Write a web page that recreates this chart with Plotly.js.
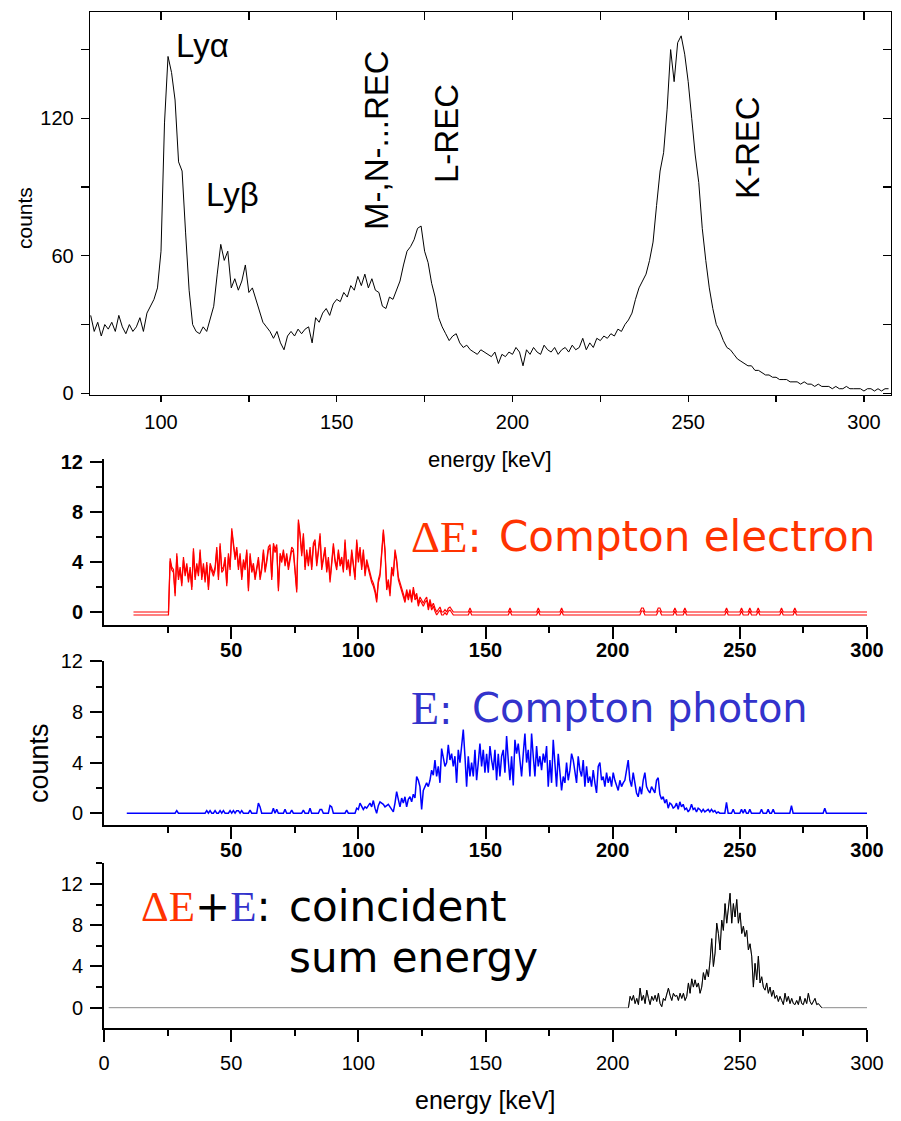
<!DOCTYPE html>
<html><head><meta charset="utf-8">
<script src="https://cdn.plot.ly/plotly-3.0.1.min.js"></script>
<style>html,body{margin:0;padding:0;background:#fff}</style>
</head><body>
<div id="chart" style="width:901px;height:1121px"></div>
<script>
// ---------- data ----------
// top: X-ray spectrum, 1 keV bins from 80 keV
const topStartKeV = 80;
const topStepKeV = 1;
const topCounts = [
 34,27,31,25,30,28,31,27,34,29,
 26,30,27,29,33,27,35,38,41,46,
 62,118,147,140,128,101,97,70,45,30,
 27,26,29,27,33,38,52,65,58,62,
 46,50,45,49,56,44,46,41,35,31,
 29,27,24,27,22,19,25,27,25,28,
 26,28,29,22,33,31,35,37,34,39,
 41,40,44,42,47,45,51,47,52,46,
 50,45,44,38,37,42,41,45,49,56,
 62,64,67,72,73,62,57,48,42,33,
 29,26,23,25,26,22,20,21,19,18,
 17,19,18,17,16,18,13,17,16,18,
 17,20,18,12,19,17,20,18,17,21,
 19,18,20,17,19,20,18,21,19,20,
 24,19,22,20,24,23,25,24,26,25,
 28,27,30,32,35,41,46,49,52,58,
 66,82,97,105,124,150,136,153,156,148,
 136,120,104,92,72,58,46,37,30,27,
 23,20,19,17,15,14,13,12,12,10,
 10,9,8,8,7,7,6,6,6,5,
 5,5,4,5,4,4,3,4,3,3,
 3,2,3,2,2,3,2,2,2,2,
 1,2,2,1,2,1,2,2];

// coincidence spectra: bins of 0.655 keV
const binStepKeV = 0.655;

// ΔE: Compton electron
const elecLowKeV = 11.8, elecStartKeV = 26.0, elecHighKeV = 300;
const elecCounts = [
 4.3,3.6,3.4,1.5,4.7,2.8,3.6,2.3,4.4,3.1,
 3.9,2.6,3.6,2.0,5.1,2.8,3.9,3.1,5.0,2.8,
 3.9,2.6,4.0,2.0,3.9,3.4,3.1,3.6,5.2,2.8,
 5.5,3.4,3.6,4.4,2.3,4.7,3.6,6.7,5.5,4.4,
 5.2,3.6,4.7,2.8,4.2,3.6,5.0,1.9,4.7,3.4,
 3.9,2.8,3.6,4.4,2.8,3.6,5.0,3.4,4.2,5.2,
 5.4,2.8,5.5,5.0,5.4,1.9,4.7,4.2,5.0,3.9,
 4.7,3.6,4.4,5.2,5.0,3.1,1.8,7.4,6.3,4.7,
 6.3,3.6,5.0,3.9,5.2,3.6,5.5,5.8,3.9,5.0,
 6.3,3.6,4.4,5.2,3.4,4.4,2.6,4.4,5.5,4.2,
 3.6,5.0,3.9,4.4,3.4,5.8,3.6,4.2,3.1,5.0,
 3.6,2.8,5.8,4.2,5.2,3.6,5.0,3.1,4.2,3.6,
 3.1,2.6,2.3,1.8,1.0,2.6,3.1,5.0,6.6,5.0,
 2.0,2.6,1.5,3.6,3.1,5.0,4.2,2.8,2.3,1.8,
 1.5,1.0,1.8,1.2,1.8,1.0,2.0,1.2,1.5,0.7,
 1.2,1.0,0.7,1.0,1.2,0.4,1.0,0.4,0.7,0.3,
 0.0,0.2,0.4,0.0,0.0,0.2,0.0,0.3,0.4,0.2,
 0.0];
const elecBumpKeV = [144.2,159.4,170.8,179.7,211.2,212.0,217.6,218.3,224.5,228.6,244.6,250.5,254.0,257.3,266.2,271.7];
const elecBumpCounts = [0.32,0.32,0.32,0.32,0.32,0.32,0.32,0.32,0.32,0.32,0.32,0.32,0.32,0.32,0.32,0.32];

// E: Compton photon
const photLowKeV = 8.7, photStartKeV = 100.0, photHighKeV = 300;
const photCounts = [
 0.3,0.8,0.5,0.3,0.5,0.4,0.6,0.8,0.5,1.0,0.4,0.0,0.6,
 0.9,0.8,0.7,0.5,0.6,0.7,0.5,0.3,0.1,0.8,
 1.7,1.1,0.5,1.2,0.8,1.3,0.5,1.1,1.3,0.9,
 1.5,1.2,2.9,2.6,2.1,0.3,1.8,2.1,2.4,2.1,
 2.6,3.4,3.0,4.2,2.9,3.7,2.4,5.1,4.2,3.7,
 4.0,5.4,4.2,4.7,3.7,4.5,2.4,5.0,4.0,5.3,
 6.6,4.5,2.1,4.5,2.9,4.0,2.9,5.0,2.6,4.0,
 5.5,3.7,5.0,3.2,4.7,3.2,5.3,4.2,3.4,5.0,
 2.6,4.7,2.9,4.5,5.0,3.2,6.1,4.2,2.6,4.5,
 2.2,5.8,4.7,5.5,4.0,2.9,4.7,6.3,4.0,5.0,
 2.9,6.3,4.5,2.9,5.3,3.7,4.5,3.4,4.7,4.0,
 5.3,2.1,4.2,2.4,5.8,3.7,2.1,4.7,3.4,1.8,
 2.9,2.4,4.0,2.6,3.4,4.7,4.2,3.4,2.4,4.5,
 3.4,2.9,4.2,2.1,3.7,2.4,2.9,2.1,3.4,2.4,
 1.6,3.7,4.0,2.6,2.9,2.1,3.2,2.4,2.9,2.1,
 3.2,2.6,2.1,1.8,2.6,2.1,2.4,2.6,3.4,4.2,
 2.6,2.1,3.2,2.4,1.6,1.3,2.1,1.5,2.6,3.2,
 2.1,1.8,1.6,2.1,1.8,1.6,2.6,2.8,1.5,1.1,
 1.3,0.8,1.1,0.4,0.8,0.7,0.4,0.5,0.8,0.3,
 0.9,0.5,0.7,0.3,0.4,0.1,0.3,0.7,0.3,0.4,
 0.1,0.4,0.3,0.1,0.3,0.1,0.2,0.3,0.1,0.3,
 0.1,0.2,0.0,0.1];
const photBumpKeV = [28.3,40.3,41.9,43.5,45.4,46.7,49.7,50.8,51.9,52.8,54.1,57.4,60.7,61.6,66.6,67.6,71.2,73.8,78.4,81.3,85.0,85.6,88.6,89.5,95.4,99.4,244.6,247.5,250.7,252.0,254.0,258.2,261.2,263.2,270.0,283.5];
const photBumpCounts = [0.2,0.2,0.2,0.2,0.2,0.2,0.2,0.2,0.2,0.2,0.2,0.25,0.8,0.5,0.4,0.3,0.3,0.25,0.25,0.4,0.3,0.3,0.6,0.5,0.25,0.4,0.85,0.3,0.3,0.3,0.3,0.3,0.3,0.3,0.6,0.4];

// ΔE+E: coincident sum energy
const sumLowKeV = 1.7, sumStartKeV = 206.2, sumHighKeV = 300;
const sumCounts = [
 0,1.1,0.7,1.2,0.4,0.9,0.3,1.9,0.7,1.2,
 0.4,1.7,0.9,0.3,1.1,0.7,1.2,0.6,1.4,0.4,
 0.1,0.9,0.7,1.2,1.9,1.2,0.7,1.4,1.1,1.2,
 0.7,1.4,0.9,1.4,0.7,1.1,2.4,1.4,2.8,2.0,
 2.7,2.0,2.4,1.4,2.0,3.4,2.7,3.7,3.0,4.6,
 6.7,4.0,5.3,8.2,7.2,5.6,8.5,7.5,10.1,8.2,
 9.8,11.1,8.2,10.1,8.8,10.5,8.2,9.2,7.2,7.9,
 6.9,7.5,5.6,6.2,5.0,2.0,4.3,2.7,5.0,2.4,
 3.0,2.0,1.7,2.4,1.4,2.0,1.1,1.7,0.9,1.2,
 0.6,1.1,0.7,0.3,1.4,0.6,1.1,0.4,0.9,0.4,
 0.3,0.7,0.3,1.1,0.4,0.3,0.9,0.4,1.4,0.6,
 0.3,0.6,0.9,0.3,0.4,0.2,0];

// tick values
const topXTicks = [100,150,200,250,300];
const topXMinor = [125,175,225,275];
const topYTicks = [0,60,120];
const topYMinor = [30,90,150];
const panelXTicks = [50,100,150,200,250,300];
const sumXTicks = [0,50,100,150,200,250,300];
const panelXMinor = [25,75,125,175,225,275];
const panelYTicks = [0,4,8,12];
const panelYMinor = [2,6,10];
const sumYMinor = [2,6,10,14];

// ---------- build series ----------
function binnedSeries(lo, start, step, hi, counts, bumpE, bumpC) {
  const x = [], y = [];
  const nPre = Math.round((start - lo) / step);
  for (let i = nPre; i > 0; i--) { x.push(start - i * step); y.push(0); }
  counts.forEach((c, i) => { x.push(start + i * step); y.push(c); });
  let e = start + counts.length * step;
  for (; e <= hi + 1e-6; e += step) { x.push(e); y.push(0); }
  if (x[x.length - 1] < hi - 0.01) { x.push(hi); y.push(0); }
  (bumpE || []).forEach((b, k) => {
    let best = 0, d = Infinity;
    x.forEach((xx, i) => { const dd = Math.abs(xx - b); if (dd < d) { d = dd; best = i; } });
    y[best] = bumpC[k];
  });
  return { x, y };
}
const topX = topCounts.map((_, i) => topStartKeV + i * topStepKeV);
const elec = binnedSeries(elecLowKeV, elecStartKeV, binStepKeV, elecHighKeV, elecCounts, elecBumpKeV, elecBumpCounts);
const phot = binnedSeries(photLowKeV, photStartKeV, binStepKeV, photHighKeV, photCounts, photBumpKeV, photBumpCounts);
const sumAll = binnedSeries(sumLowKeV, sumStartKeV, binStepKeV, sumHighKeV, sumCounts, [], []);
const sumPeakX = sumCounts.map((_, i) => sumStartKeV + i * binStepKeV);

// ---------- layout helpers ----------
const W = 901, H = 1121;
const fx = p => p / W, fy = p => 1 - p / H;
const ARIAL = "'Liberation Sans', Arial, sans-serif";
const VERD = "'DejaVu Sans', Verdana, sans-serif";
const RED_TXT = '#FF3300', BLUE_TXT = '#3333CC';

const line = (c, w) => ({ color: c, width: w });
const traces = [
  { x: topX, y: topCounts, xaxis: 'x', yaxis: 'y', mode: 'lines', line: line('#000', 1), hoverinfo: 'skip' },
  { x: [], y: [], xaxis: 'x5', yaxis: 'y5', mode: 'lines', hoverinfo: 'skip' },
  { x: elec.x, y: elec.y, xaxis: 'x2', yaxis: 'y2', mode: 'lines', line: line('#FF0000', 1.2), hoverinfo: 'skip' },
  { x: elec.x, y: elec.y, xaxis: 'x2', yaxis: 'y6', mode: 'lines', line: line('#FF0000', 1.2), hoverinfo: 'skip' },
  { x: phot.x, y: phot.y, xaxis: 'x3', yaxis: 'y3', mode: 'lines', line: line('#0000FF', 1.5), hoverinfo: 'skip' },
  { x: sumAll.x, y: sumAll.y, xaxis: 'x4', yaxis: 'y4', mode: 'lines', line: line('#8a8a8a', 1), hoverinfo: 'skip' },
  { x: sumPeakX, y: sumCounts, xaxis: 'x4', yaxis: 'y4', mode: 'lines', line: line('#000', 1), hoverinfo: 'skip' }
];

const tf = (size, bold) => ({ family: ARIAL, size: size, color: '#000', weight: bold ? 'bold' : 'normal' });
const baseAx = { showgrid: false, zeroline: false, showline: true, linecolor: '#000', tickcolor: '#000', fixedrange: true };

function minorArr(vals, len, dir, w) {
  return { tickmode: 'array', tickvals: vals, ticks: dir, ticklen: len, tickwidth: w, tickcolor: '#000', showgrid: false };
}
function panelX(anchor, ticks, bold, standoff) {
  return Object.assign({}, baseAx, {
    domain: [fx(104), fx(867)], anchor: anchor, range: [0, 300], linewidth: 2,
    ticks: 'outside', ticklen: 12, tickwidth: 2, tickmode: 'array', tickvals: ticks,
    minor: minorArr(panelXMinor, 6, 'outside', 2), tickfont: tf(20, bold), ticklabelstandoff: standoff
  });
}
function panelY(anchor, top, bottom, range, bold, minors) {
  return Object.assign({}, baseAx, {
    domain: [fy(bottom), fy(top)], anchor: anchor, range: range, linewidth: 2,
    ticks: 'outside', ticklen: 12, tickwidth: 2, tickmode: 'array', tickvals: panelYTicks,
    minor: minorArr(minors, 6, 'outside', 2), tickfont: tf(20, bold), ticklabelstandoff: 3
  });
}

const topRange = [79.8, 307.7], topYRange = [-0.74, 166.4];
const layout = {
  width: W, height: H, margin: { l: 0, r: 0, t: 0, b: 0 },
  paper_bgcolor: '#fff', plot_bgcolor: 'rgba(0,0,0,0)', showlegend: false,
  xaxis: Object.assign({}, baseAx, {
    domain: [fx(90), fx(891)], anchor: 'y', range: topRange, linewidth: 1.3, mirror: true,
    ticks: 'outside', ticklen: 6, tickwidth: 1.3, tickmode: 'array', tickvals: topXTicks,
    minor: minorArr(topXMinor, 6, 'outside', 1.3), tickfont: tf(20, false), ticklabelstandoff: 3
  }),
  yaxis: Object.assign({}, baseAx, {
    domain: [fy(395), fy(12)], anchor: 'x', range: topYRange, linewidth: 1.3, mirror: true,
    ticks: 'outside', ticklen: 8, tickwidth: 1.3, tickmode: 'array', tickvals: topYTicks,
    minor: minorArr(topYMinor, 8, 'outside', 1.3), tickfont: tf(20, false), ticklabelstandoff: 3
  }),
  xaxis5: Object.assign({}, baseAx, {
    overlaying: 'x', side: 'top', anchor: 'y5', range: topRange, showline: false,
    ticks: 'inside', ticklen: 8, tickwidth: 1.3, tickmode: 'array', tickvals: topXTicks,
    minor: minorArr(topXMinor, 8, 'inside', 1.3), showticklabels: false
  }),
  yaxis5: Object.assign({}, baseAx, {
    overlaying: 'y', side: 'right', anchor: 'x5', range: topYRange, showline: false,
    ticks: 'inside', ticklen: 8, tickwidth: 1.3, tickmode: 'array', tickvals: topYTicks,
    minor: minorArr(topYMinor, 8, 'inside', 1.3), showticklabels: false
  }),
  xaxis2: panelX('y2', panelXTicks, true, -6),
  yaxis2: panelY('x2', 459, 625, [-1.04, 12.24], true, panelYMinor),
  yaxis6: Object.assign({}, baseAx, { overlaying: 'y2', anchor: 'x2', range: [-0.80, 12.48], visible: false, showline: false }),
  xaxis3: panelX('y3', panelXTicks, true, -6),
  yaxis3: panelY('x3', 661, 825, [-0.93, 12.02], false, panelYMinor),
  xaxis4: panelX('y4', sumXTicks, false, 4),
  yaxis4: panelY('x4', 863.4, 1028, [-1.97, 14.0], false, sumYMinor),
  annotations: []
};

function ann(text, x, y, o) {
  return Object.assign({ text: text, x: fx(x), y: fy(y), xref: 'paper', yref: 'paper', showarrow: false,
    xanchor: 'center', yanchor: 'middle', borderpad: 0, font: { family: ARIAL, size: 20, color: '#000' } }, o || {});
}
const SER = (t, size, color) => `<span style="font-family:'Liberation Serif';font-size:${size}px${color ? ';fill:' + color : ''}">${t}</span>`;

layout.annotations.push(
  ann('Lyα', 202.5, 46, { font: { family: ARIAL, size: 33, color: '#000' } }),
  ann('Lyβ', 232.5, 195, { font: { family: ARIAL, size: 33, color: '#000' } }),
  ann('M-,N-...REC', 377, 140, { textangle: -90, font: { family: ARIAL, size: 33, color: '#000' } }),
  ann('L-REC', 446, 134, { textangle: -90, font: { family: ARIAL, size: 33, color: '#000' } }),
  ann('K-REC', 747, 148, { textangle: -90, font: { family: ARIAL, size: 33, color: '#000' } }),
  ann('counts', 25, 218, { textangle: -90, font: { family: ARIAL, size: 21, color: '#000' } }),
  ann('energy [keV]', 490, 459, { font: { family: ARIAL, size: 22, color: '#000' } }),
  // panel 2
  ann(SER('ΔE', 45) + ':', 410, 537, { xanchor: 'left', font: { family: VERD, size: 42, color: RED_TXT } }),
  ann('Compton electron', 498, 537, { xanchor: 'left', font: { family: VERD, size: 42, color: RED_TXT } }),
  // panel 3
  ann(SER('E', 46) + ':', 410, 708, { xanchor: 'left', font: { family: VERD, size: 40, color: BLUE_TXT } }),
  ann('Compton photon', 471, 708, { xanchor: 'left', font: { family: VERD, size: 40, color: BLUE_TXT } }),
  ann('counts', 39, 763, { textangle: -90, font: { family: ARIAL, size: 27, color: '#000' } }),
  // panel 4
  ann(SER('ΔE', 43, RED_TXT) + '+' + SER('E', 43, BLUE_TXT) + ':', 140, 906, { xanchor: 'left', font: { family: VERD, size: 42, color: '#000' } }),
  ann('coincident', 288, 906, { xanchor: 'left', font: { family: VERD, size: 42, color: '#000' } }),
  ann('sum energy', 288, 957, { xanchor: 'left', font: { family: VERD, size: 42, color: '#000' } }),
  ann('energy [keV]', 485, 1100, { font: { family: ARIAL, size: 25, color: '#000' } })
);

Plotly.newPlot('chart', traces, layout, { displayModeBar: false, staticPlot: true });
</script>
</body></html>
